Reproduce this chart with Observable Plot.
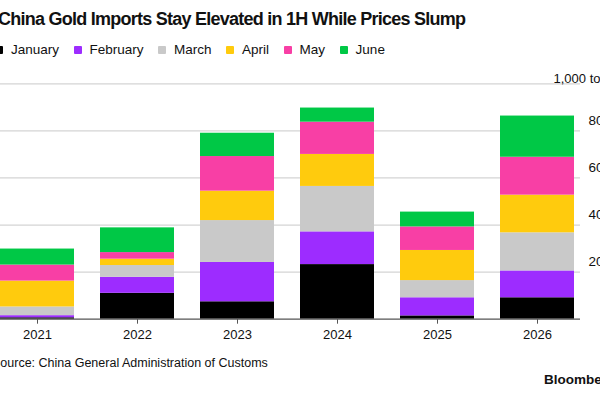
<!DOCTYPE html>
<html>
<head>
<meta charset="utf-8">
<script src="https://cdn.jsdelivr.net/npm/d3@7"></script>
<script src="https://cdn.jsdelivr.net/npm/@observablehq/plot@0.6"></script>
<style>
  html, body { margin: 0; padding: 0; background: #fff; overflow: hidden; width: 600px; height: 400px; }
  body { position: relative; font-family: "Liberation Sans", Arial, sans-serif; color: #111; }
  #title { position: absolute; left: -2px; top: 9px; font-size: 18px; font-weight: bold; white-space: nowrap; letter-spacing: -0.75px; }
  #legend { position: absolute; left: -5px; top: 42px; display: flex; font-size: 13.5px; white-space: nowrap; }
  .item { display: flex; align-items: center; margin-right: 14.5px; }
  .sw { width: 8px; height: 8px; margin-right: 8px; border-radius: 1px; }
  #chart { position: absolute; left: 0; top: 60px; }
  #source { position: absolute; left: -8px; top: 356px; font-size: 12.5px; white-space: nowrap; }
  #brand { position: absolute; left: 544px; top: 372px; font-size: 13.5px; font-weight: bold; white-space: nowrap; }
</style>
</head>
<body>
<div id="title"></div>
<div id="legend"></div>
<div id="chart"></div>
<div id="source"></div>
<div id="brand"></div>
<script>
const titleText = "China Gold Imports Stay Elevated in 1H While Prices Slump";
const sourceText = "Source: China General Administration of Customs";
const brandText = "Bloomberg";
const unitLabel = "1,000 tons";

const years = ["2021", "2022", "2023", "2024", "2025", "2026"];
const months = ["January", "February", "March", "April", "May", "June"];
const colors = ["#000000", "#9d2cff", "#c9c9c9", "#ffcb0d", "#f83fa5", "#00c846"];

const january  = [0.6, 11.0, 7.4, 23.2, 1.4, 9.1];
const february = [0.9, 6.8, 16.7, 13.9, 7.7, 11.4];
const march    = [3.7, 5.0, 17.8, 19.3, 7.3, 16.2];
const april    = [11.0, 2.7, 12.5, 13.6, 12.8, 16.0];
const may      = [6.8, 2.8, 14.7, 13.7, 10.0, 16.1];
const june     = [6.8, 10.5, 9.9, 6.0, 6.3, 17.5];

const yTicks = [20, 40, 60, 80];
const gridTicks = [20, 40, 60, 80, 100];

const series = [january, february, march, april, may, june];
const data = [];
years.forEach((yr, i) => {
  months.forEach((m, j) => data.push({year: yr, month: m, value: series[j][i]}));
});

document.getElementById("title").textContent = titleText;
document.getElementById("source").textContent = sourceText;
document.getElementById("brand").textContent = brandText;

const legend = document.getElementById("legend");
months.forEach((m, j) => {
  const it = document.createElement("div");
  it.className = "item";
  const sw = document.createElement("div");
  sw.className = "sw";
  sw.style.background = colors[j];
  const tx = document.createElement("span");
  tx.textContent = m;
  it.appendChild(sw); it.appendChild(tx);
  legend.appendChild(it);
});

const chart = Plot.plot({
  width: 600,
  height: 285,
  marginLeft: 0,
  marginRight: 20,
  marginTop: 23.3,
  marginBottom: 26.3,
  style: {fontFamily: "'Liberation Sans', Arial, sans-serif", fontSize: "13px", color: "#111", background: "transparent", overflow: "visible"},
  x: {domain: years, range: [-13.3, 586.7], paddingInner: 0.257, paddingOuter: 0.1285, axis: null, label: null},
  y: {domain: [0, 100], axis: null, label: null},
  color: {domain: months, range: colors},
  marks: [
    Plot.ruleY(gridTicks, {stroke: "#d4d4d4", strokeWidth: 1.2}),
    Plot.barY(data, {x: "year", y: "value", fill: "month", order: null}),
    Plot.ruleY([0], {stroke: "#555", strokeWidth: 1.2}),
    Plot.axisX({tickSize: 5, tickPadding: 6, stroke: "#555", fontSize: "13px", fill: "#111", label: null}),
    Plot.axisY(yTicks, {anchor: "right", tickSize: 0, tickPadding: 8, textAnchor: "start", dy: -10, fontSize: "13.5px", fill: "#111", label: null}),
    Plot.text([unitLabel], {frameAnchor: "top-right", textAnchor: "start", dx: -27, dy: -10, fontSize: "13px", fill: "#111"})
  ]
});
document.getElementById("chart").appendChild(chart);
</script>
</body>
</html>
